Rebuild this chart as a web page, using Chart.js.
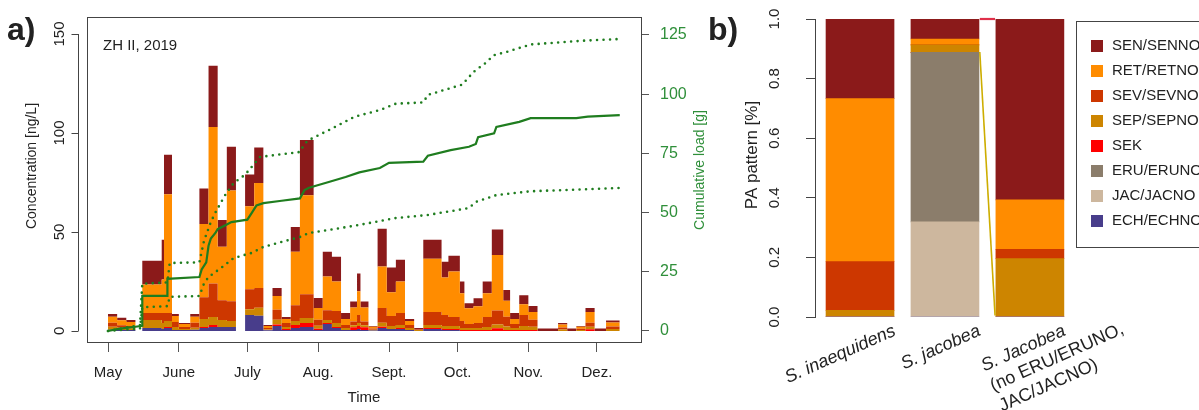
<!DOCTYPE html>
<html>
<head>
<meta charset="utf-8">
<script src="https://cdn.jsdelivr.net/npm/chart.js@4.4.1/dist/chart.umd.min.js"></script>
<style>
  html, body { margin: 0; padding: 0; background: #fff; overflow: hidden; }
  body { width: 1199px; height: 410px; position: relative; }
  .panel { position: absolute; top: 0; height: 410px; }
  #wrapA { left: 0; width: 712px; }
  #wrapB { left: 700px; width: 506px; }
</style>
</head>
<body>
<div class="panel" id="wrapA"><canvas id="chartA"></canvas></div>
<div class="panel" id="wrapB"><canvas id="chartB"></canvas></div>
<script>
/* ---------- data: panel a (days since 1 May 2019) ---------- */
const sampleDays = [0,4,8,12,15,23.5,24.5,28,31,36,40,44,48,52,56,60,64,68,72,76,80,84,90,94,98,
  102,106,109,110.5,114,118,122,126,130,134,138,146,149,154,156,160,164,168,173,176,180,184,188,
  197,201,205,209,213,218,224];

const concSEN = [1.5,1.2,1.0,0, 12,20,20,1,0.5,1.5, 18,31,13.5,22,0, 16,18,0.5,4,1, 12.5,28,5,12.5,12.5,
  3,3,9,3,0.4, 19,12.5,11,1,0.8, 9.5,8,8,6,2.5, 4,6,13,5.5,3, 4.5,3,1.2,0.8,1.2, 0.4,2,1.2,1];
const concRET = [3.0,2.5,2.0,0, 14.5,17,60,3,1.5,3, 37,79,27,56,0, 42,53,1,7,2, 27,50,6,17,15,
  3,7,12,7,0.9, 21,12,16,2,0, 27,19,23,14,8, 8.5,12,28,8,2.5, 5.5,4,0,1.5,0, 1,5.5,0,2];
const concSEV = [2.0,1.3,1.2,0, 3.5,5,4,2.5,1,2.5, 11,17,10,10,0, 10,10,0.8,5,2, 8,12,3,5,6,
  1.5,2,4,2,0.6, 7.5,5,6,1.5,0.3, 6.5,5.5,4.5,3.5,2, 2.5,5,7,5,2, 5.5,3.5,0,1,0, 0.6,2,0,1.2];
const concSEP = [1.5,1.1,0.9,0, 4,3,3,1.5,0.6,1, 4,4,3.5,3,0, 3,4,0.4,2.5,1, 2,2.5,1.5,1.5,2,
  1,1,1.5,1,0.4, 2,1.5,1.5,1,0.4, 1.5,1.5,1.5,1,1, 1,1.5,2,1.7,1, 2,1.6,0,0.7,0, 0.5,1.2,0,1.0];
const concSEK = [0,0,0,0, 0,0,0.5,0,0,0, 0.5,1,0,0,0, 0,0,0,0.7,0.5, 1.5,2,0.6,0.5,0.5,
  0,1.3,1.5,1.3,0, 0.6,0,0.5,0,0, 0.5,0.5,0.5,0.5,0.5, 0.5,0.5,1.3,0.5,0.5, 0.5,0.5,0,0,0, 0,0.9,0,0];
const concERU = [0,0,0,0, 0,0,0,0,0,0, 0,0,0,0,0, 0,0,0,0,0, 0,0,0,0,0,
  0,0,0,0,0, 0,0,0,0,0, 0,0,0,0,0, 0,0,0,0,0, 0,0,0,0,0, 0,0,0,0];
const concJAC = [0,0,0,0, 0,0,0,0,0,0, 0,0,0,0,0, 0,0,0,0,0, 0,0,0,0,0,
  0,0,0,0,0, 0,0,0,0,0, 0,0,0,0,0, 0,0,0,0,0, 0,0,0,0,0, 0,0,0,0];
const concECH = [0.6,0.5,0.4,0, 1.5,1,1.5,0.5,0.4,0.6, 1.5,2,2,2,0, 8,7.7,0.3,2.5,0.5, 1.5,2,0.5,3.5,1.5,
  0.5,0.5,1,0.5,0.2, 1.5,1,1,0.5,0, 1,0.5,0.5,0,0, 0,0,0,0,0, 0,0,0,0,0, 0,0,0,0];

const loadMidDays = [0,4,8,12,15,15,26,26,40,41,43,44,45,47,48,52,54,61,63,65,68,76,84,86,88,97,104,110,
  119,123,138,140,150,158,161,162,169,170,180,185,205,210,224];
const loadMid = [0,0.8,1.3,1.8,2.2,14.8,14.8,22,22.8,26,29,36,39,41.4,43,45,46,47,50,53,54,55,56,59.5,60.5,
  63,65,67,68.8,71,71.5,74,76.4,77.8,79,81.9,83.5,86.2,88.3,89.9,89.9,90.5,91.2];
const loadHighDays = [0,8,14,15,26,27,40,42,45,47,51,55,60,63.5,66.5,84,86,88,97,108,119,126,138,140,150,
  155,160,165,169,175,185,208,224];
const loadHigh = [0,1.5,2.5,20,20.5,28.7,29,38,46,50,57,62.5,66,70,73.5,75.6,79,80.7,85,90.5,93.3,96,96.5,
  99.7,102.6,104,109.4,113,116.5,118,121,122.6,123.3];
const loadLowDays = [0,14,15,26,27,40,42,44,50,55,63,68,84,88,97,110,126,140,158,161,170,185,224];
const loadLow = [0,1,10,10.5,14.4,14.8,20,22.8,27,30.8,33,35.5,39.7,41.4,42.7,44.8,47.7,49,51.9,54.5,57.4,59,60.4];

const monthTicks = [0,31,61,92,123,153,184,214];
const monthLabels = ['May','June','July','Aug.','Sept.','Oct.','Nov.','Dez.'];
const concTicks = [0,50,100,150];
const loadTicks = [0,25,50,75,100,125];

/* ---------- data: panel b ---------- */
const species = [['S. inaequidens'], ['S. jacobea'], ['S. Jacobea', '(no ERU/ERUNO,', 'JAC/JACNO)']];
const patternSEN = [0.267, 0.067, 0.607];
const patternRET = [0.547, 0.020, 0.166];
const patternSEV = [0.164, 0, 0.031];
const patternSEP = [0.022, 0.025, 0.196];
const patternSEK = [0, 0, 0];
const patternERU = [0, 0.569, 0];
const patternJAC = [0, 0.319, 0];
const patternECH = [0, 0, 0];
const patternTicks = [0, 0.2, 0.4, 0.6, 0.8, 1.0];
const linkX = [1.41, 1.59];
const linkERU = [0.889, 0.005];
const linkTop = [1.0, 1.0];

/* stacking order, bottom to top */
const seriesNames = ['ECH/ECHNO','JAC/JACNO','ERU/ERUNO','SEK','SEP/SEPNO','SEV/SEVNO','RET/RETNO','SEN/SENNO'];
const seriesColors = ['#483D8B','#CDB79E','#8B7D6B','#FF0000','#CD8500','#CD3700','#FF8C00','#8B1A1A'];
const concSeries = [concECH, concJAC, concERU, concSEK, concSEP, concSEV, concRET, concSEN];
const patternSeries = [patternECH, patternJAC, patternERU, patternSEK, patternSEP, patternSEV, patternRET, patternSEN];

const FONT = '"Liberation Sans", Arial, sans-serif';
const loadGreen = '#1f7d1f';
const labelGreen = '#2f8f3a';
Chart.defaults.font.family = FONT;
Chart.defaults.color = '#222';

const pairs = (xs, ys) => xs.map((x, i) => ({x: x, y: ys[i]}));
function stepData(values) {
  const pts = values.map((v, i) => ({x: sampleDays[i], y: v}));
  pts.push({x: sampleDays[values.length], y: values[values.length - 1]});
  return pts;
}
function rotatedText(ctx, text, x, y, font, color) {
  ctx.save();
  ctx.translate(x, y);
  ctx.rotate(-Math.PI / 2);
  ctx.font = font;
  ctx.fillStyle = color;
  ctx.textAlign = 'center';
  ctx.textBaseline = 'middle';
  ctx.fillText(text, 0, 0);
  ctx.restore();
}
function noPad(s) { s.paddingTop = 0; s.paddingBottom = 0; s.paddingLeft = 0; s.paddingRight = 0; }

/* ---------- panel a ---------- */
const frameA = {
  id: 'frameA',
  afterDraw(chart) {
    const {ctx, chartArea: a, scales} = chart;
    const y = scales.y;
    ctx.save();
    ctx.strokeStyle = '#444';
    ctx.lineWidth = 1;
    ctx.strokeRect(Math.round(a.left) + 0.5, Math.round(a.top) + 0.5, Math.round(a.width), Math.round(a.height));
    // R style left axis, set off from the box
    const ax = Math.round(a.left) - 8.5;
    ctx.beginPath();
    ctx.moveTo(ax, y.getPixelForValue(concTicks[0]));
    ctx.lineTo(ax, y.getPixelForValue(concTicks[concTicks.length - 1]));
    concTicks.forEach(v => {
      const py = Math.round(y.getPixelForValue(v)) + 0.5;
      ctx.moveTo(ax, py);
      ctx.lineTo(ax - 7, py);
    });
    ctx.stroke();
    ctx.fillStyle = '#222';
    ctx.textAlign = 'left';
    ctx.textBaseline = 'alphabetic';
    ctx.font = '15px ' + FONT;
    ctx.fillText('ZH II, 2019', a.left + 16, a.top + 33);
    ctx.font = 'bold 32px ' + FONT;
    ctx.fillText('a)', 7, 40);
    rotatedText(ctx, 'Concentration [ng/L]', 32, 166, '14px ' + FONT, '#222');
    rotatedText(ctx, 'Cumulative load [g]', 700, 170, '14px ' + FONT, labelGreen);
    ctx.restore();
  }
};

const areaDatasets = concSeries.map((vals, k) => ({
  type: 'line',
  label: seriesNames[k],
  data: stepData(vals),
  yAxisID: 'y',
  stepped: 'before',
  fill: k === 0 ? 'origin' : '-1',
  backgroundColor: seriesColors[k],
  borderColor: seriesColors[k],
  borderWidth: 0,
  pointRadius: 0,
  order: 2
}));

const loadDatasets = [
  { type: 'line', label: 'load', data: pairs(loadMidDays, loadMid), yAxisID: 'y1',
    borderColor: loadGreen, borderWidth: 2.2, pointRadius: 0, fill: false, order: 0 },
  { type: 'line', label: 'load high', data: pairs(loadHighDays, loadHigh), yAxisID: 'y1',
    borderColor: loadGreen, borderWidth: 2.6, borderDash: [0, 6.5], borderCapStyle: 'round',
    pointRadius: 0, fill: false, order: 0 },
  { type: 'line', label: 'load low', data: pairs(loadLowDays, loadLow), yAxisID: 'y1',
    borderColor: loadGreen, borderWidth: 2.6, borderDash: [0, 6.5], borderCapStyle: 'round',
    pointRadius: 0, fill: false, order: 0 }
];

new Chart(document.getElementById('chartA'), {
  type: 'line',
  data: { datasets: areaDatasets.concat(loadDatasets) },
  options: {
    responsive: true,
    maintainAspectRatio: false,
    animation: false,
    events: [],
    layout: { padding: { top: 17, left: 0, right: 0, bottom: 0 } },
    plugins: { legend: { display: false }, tooltip: { enabled: false } },
    scales: {
      x: {
        type: 'linear', position: 'bottom', min: -9.2, max: 233.3,
        afterBuildTicks: s => { s.ticks = monthTicks.map(v => ({value: v})); },
        afterFit: s => { s.height = 68; noPad(s); },
        ticks: { callback: (v, i) => monthLabels[i], autoSkip: false, maxRotation: 0,
          padding: 12, font: { size: 15 }, color: '#222' },
        grid: { drawOnChartArea: false, drawTicks: true, tickLength: 10, color: '#555' },
        border: { display: false },
        title: { display: true, text: 'Time', font: { size: 15 }, color: '#222', padding: { top: 0, bottom: 3 } }
      },
      y: {
        type: 'linear', position: 'left', stacked: true, min: -5.6, max: 158.6,
        afterBuildTicks: s => { s.ticks = concTicks.map(v => ({value: v})); },
        afterFit: s => { s.width = 87; noPad(s); },
        ticks: { minRotation: 90, maxRotation: 90, crossAlign: 'center', padding: 15,
          font: { size: 15 }, color: '#222' },
        grid: { display: false, drawTicks: false },
        border: { display: false }
      },
      y1: {
        type: 'linear', position: 'right', min: -4.65, max: 132.6,
        afterBuildTicks: s => { s.ticks = loadTicks.map(v => ({value: v})); },
        afterFit: s => { s.width = 71; noPad(s); },
        ticks: { color: labelGreen, padding: 11, font: { size: 16 } },
        grid: { drawOnChartArea: false, tickLength: 8, color: '#555' },
        border: { display: false }
      }
    }
  },
  plugins: [frameA]
});

/* ---------- panel b ---------- */
const decorB = {
  id: 'decorB',
  afterDraw(chart) {
    const {ctx, chartArea: a, scales} = chart;
    const x = scales.x;
    ctx.save();
    ctx.fillStyle = '#222';
    ctx.textAlign = 'left';
    ctx.textBaseline = 'alphabetic';
    ctx.font = 'bold 32px ' + FONT;
    ctx.fillText('b)', 8, 40);
    rotatedText(ctx, 'PA pattern [%]', 52, 155, '17px ' + FONT, '#222');
    // slanted species labels
    species.forEach((lines, i) => {
      ctx.save();
      ctx.translate(x.getPixelForValue(i) + 31, a.bottom + 5);
      ctx.rotate(-24 * Math.PI / 180);
      ctx.font = 'italic 18px ' + FONT;
      const w0 = ctx.measureText(lines[0]).width;
      ctx.textAlign = 'left';
      ctx.textBaseline = 'top';
      ctx.fillStyle = '#222';
      lines.forEach((t, j) => {
        ctx.font = (j === 0 ? 'italic ' : '') + '18px ' + FONT;
        ctx.fillText(t, -w0, j * 22);
      });
      ctx.restore();
    });
    // frame around legend
    const lg = chart.legend;
    const hb = lg.legendHitBoxes;
    if (hb && hb.length) {
      const last = hb[hb.length - 1];
      const top = Math.round(hb[0].top - 18) + 0.5;
      const bottom = Math.round(last.top + last.height + 18) + 0.5;
      ctx.strokeStyle = '#444';
      ctx.lineWidth = 1;
      ctx.strokeRect(Math.round(lg.left) - 3.5, top, 400, bottom - top);
    }
    ctx.restore();
  }
};

const barDatasets = patternSeries.map((vals, k) => ({
  type: 'bar',
  label: seriesNames[k],
  data: vals.map((v, i) => ({x: i, y: v})),
  backgroundColor: seriesColors[k],
  borderWidth: 0,
  barThickness: 68,
  stack: 'pattern',
  order: 2
}));

const linkDatasets = [
  { type: 'line', label: 'link', data: pairs(linkX, linkERU), stack: 'l1', clip: false,
    borderColor: '#CDAD00', borderWidth: 1.6, pointRadius: 0, fill: false, order: 0 },
  { type: 'line', label: 'link top', data: pairs(linkX, linkTop), stack: 'l2', clip: false,
    borderColor: '#E0304A', borderWidth: 2.2, pointRadius: 0, fill: false, order: 0 }
];

new Chart(document.getElementById('chartB'), {
  type: 'bar',
  data: { datasets: barDatasets.concat(linkDatasets) },
  options: {
    responsive: true,
    maintainAspectRatio: false,
    animation: false,
    events: [],
    layout: { padding: { top: 19, left: 0, right: 0, bottom: 0 } },
    plugins: {
      tooltip: { enabled: false },
      legend: {
        position: 'right',
        align: 'start',
        reverse: true,
        title: { display: true, text: ' ', padding: 0, font: { size: 8 } },
        labels: {
          filter: item => item.datasetIndex < seriesNames.length,
          usePointStyle: true,
          pointStyle: 'rect',
          boxHeight: 12,
          padding: 10,
          color: '#222',
          font: { size: 15 }
        }
      }
    },
    scales: {
      x: {
        type: 'linear', stacked: true, offset: false, min: -0.53, max: 2.584,
        afterFit: s => { s.height = 93; noPad(s); },
        ticks: { display: false },
        grid: { display: false, drawTicks: false },
        border: { display: false }
      },
      y: {
        type: 'linear', position: 'left', stacked: true, min: 0, max: 1,
        afterBuildTicks: s => { s.ticks = patternTicks.map(v => ({value: v})); },
        afterFit: s => { s.width = 115; noPad(s); },
        ticks: { callback: v => v.toFixed(1), minRotation: 90, maxRotation: 90, crossAlign: 'center',
          padding: 21, font: { size: 15 }, color: '#222' },
        grid: { drawOnChartArea: false, tickLength: 9, color: '#444' },
        border: { display: true, color: '#444', width: 1 }
      }
    }
  },
  plugins: [decorB]
});
</script>
</body>
</html>
